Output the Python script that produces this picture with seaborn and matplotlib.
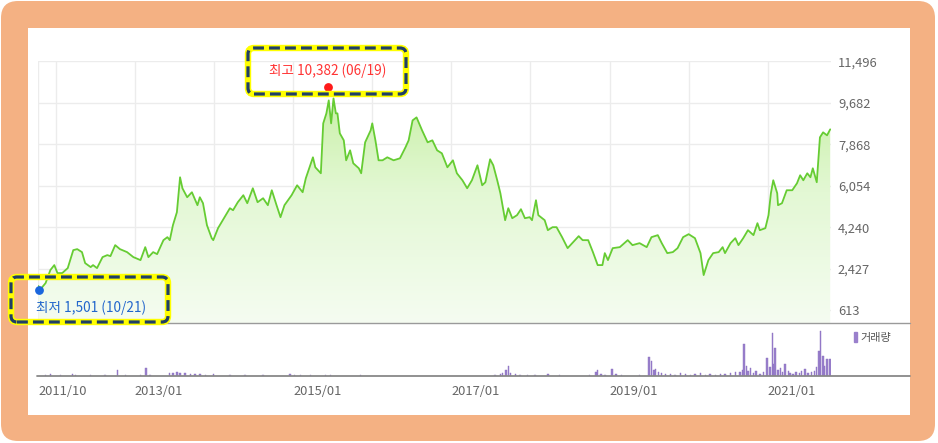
import numpy as np
import matplotlib
matplotlib.use("Agg")
import matplotlib.pyplot as plt
import seaborn as sns
from matplotlib.patches import FancyBboxPatch, Patch
from matplotlib.lines import Line2D
from matplotlib.colors import LinearSegmentedColormap

# --- dati (anni decimali, prezzo) ---
years = [
    2011.78, 2011.80, 2011.87, 2011.93, 2011.98, 2012.02, 2012.08, 2012.15, 2012.22, 2012.27,
    2012.33, 2012.37, 2012.44, 2012.47, 2012.52, 2012.59, 2012.65, 2012.69, 2012.75, 2012.81,
    2012.90, 2012.98, 2013.07, 2013.13, 2013.17, 2013.23, 2013.28, 2013.36, 2013.41, 2013.44,
    2013.48, 2013.53, 2013.57, 2013.60, 2013.66, 2013.72, 2013.79, 2013.82, 2013.86, 2013.91,
    2013.97, 2013.99, 2014.05, 2014.11, 2014.20, 2014.24, 2014.30, 2014.37, 2014.42, 2014.49,
    2014.55, 2014.62, 2014.68, 2014.73, 2014.79, 2014.84, 2014.89, 2014.98, 2015.05, 2015.12,
    2015.16, 2015.25, 2015.28, 2015.35, 2015.38, 2015.42, 2015.45, 2015.48, 2015.51, 2015.54,
    2015.56, 2015.59, 2015.64, 2015.67, 2015.72, 2015.76, 2015.83, 2015.86, 2015.91, 2015.98,
    2016.00, 2016.04, 2016.08, 2016.13, 2016.19, 2016.27, 2016.35, 2016.42, 2016.46, 2016.51,
    2016.56, 2016.63, 2016.70, 2016.76, 2016.82, 2016.88, 2016.95, 2017.02, 2017.07, 2017.14,
    2017.20, 2017.26, 2017.33, 2017.39, 2017.43, 2017.49, 2017.53, 2017.58, 2017.62, 2017.68,
    2017.72, 2017.77, 2017.83, 2017.88, 2017.93, 2017.99, 2018.02, 2018.07, 2018.10, 2018.18,
    2018.22, 2018.28, 2018.33, 2018.40, 2018.47, 2018.54, 2018.61, 2018.66, 2018.73, 2018.79,
    2018.85, 2018.91, 2018.94, 2018.98, 2019.04, 2019.13, 2019.23, 2019.29, 2019.38, 2019.47,
    2019.53, 2019.61, 2019.66, 2019.73, 2019.80, 2019.86, 2019.93, 2020.00, 2020.08, 2020.15,
    2020.19, 2020.25, 2020.31, 2020.38, 2020.43, 2020.46, 2020.53, 2020.59, 2020.63, 2020.69,
    2020.75, 2020.82, 2020.87, 2020.90, 2020.97, 2021.01, 2021.04, 2021.07, 2021.12, 2021.13,
    2021.18, 2021.24, 2021.31, 2021.37, 2021.41, 2021.45, 2021.50, 2021.54, 2021.57, 2021.62,
    2021.66, 2021.70, 2021.75, 2021.79,
]
prices = [
    1662, 1501, 1793, 2361, 2580, 2230, 2230, 2448, 3235, 3279,
    3148, 2667, 2492, 2580, 2448, 2929, 3017, 2973, 3454, 3279,
    3148, 2929, 2798, 3366, 2929, 3148, 3060, 3672, 3803, 3672,
    4328, 4896, 6425, 5944, 5551, 5770, 5202, 5551, 5289, 4328,
    3759, 3672, 4196, 4546, 5070, 4983, 5333, 5639, 5289, 5944,
    5333, 5507, 5202, 5857, 5202, 4677, 5202, 5639, 6075, 5770,
    6381, 7299, 6862, 6600, 8785, 9222, 9790, 8785, 9877, 9222,
    9222, 8348, 8042, 7168, 7605, 7037, 6818, 6600, 7955, 8479,
    8785, 8042, 7168, 7168, 7299, 7168, 7255, 7736, 8042, 8916,
    9047, 8479, 7955, 8042, 7605, 7474, 6862, 7168, 6600, 6294,
    5944, 6294, 6950, 6075, 6207, 7212, 6950, 6294, 5726, 4546,
    5070, 4633, 4765, 5027, 4633, 4677, 4546, 5420, 4765, 4546,
    4109, 4240, 4240, 3803, 3322, 3585, 3847, 3672, 3672, 3148,
    2580, 2580, 3104, 2798, 3322, 3366, 3672, 3454, 3541, 3366,
    3803, 3891, 3541, 3104, 3148, 3322, 3803, 3934, 3759, 3104,
    2143, 2798, 3104, 3148, 3366, 3104, 3541, 3759, 3454, 3759,
    4109, 3891, 4415, 4109, 4196, 4765, 5726, 6294, 5726, 5202,
    5289, 5857, 5857, 6163, 6513, 6294, 6600, 6425, 6818, 6207,
    8173, 8392, 8261, 8523,
]

# volume (unità arbitrarie)
vol_years = [
    2011.87, 2011.93, 2012.06, 2012.21, 2012.25, 2012.44, 2012.62, 2012.78, 2012.88, 2013.07,
    2013.14, 2013.19, 2013.44, 2013.48, 2013.53, 2013.57, 2013.63, 2013.70, 2013.76, 2013.82,
    2013.89, 2013.99, 2014.20, 2014.39, 2014.62, 2014.96, 2015.02, 2015.09, 2015.22, 2015.41,
    2015.47, 2015.85, 2017.55, 2017.62, 2017.65, 2017.69, 2017.72, 2017.75, 2017.81, 2017.87,
    2017.96, 2018.06, 2018.22, 2018.37, 2018.75, 2018.83, 2018.85, 2018.89, 2018.94, 2019.03,
    2019.08, 2019.15, 2019.38, 2019.50, 2019.53, 2019.56, 2019.58, 2019.62, 2019.66, 2019.71,
    2019.77, 2019.83, 2019.90, 2019.96, 2020.02, 2020.08, 2020.15, 2020.21, 2020.27, 2020.34,
    2020.40, 2020.46, 2020.53, 2020.59, 2020.65, 2020.68, 2020.70, 2020.73, 2020.75, 2020.78,
    2020.82, 2020.85, 2020.90, 2020.95, 2020.99, 2021.03, 2021.06, 2021.08, 2021.09, 2021.13,
    2021.16, 2021.19, 2021.22, 2021.26, 2021.28, 2021.32, 2021.36, 2021.40, 2021.43, 2021.47,
    2021.51, 2021.55, 2021.59, 2021.62, 2021.65, 2021.67, 2021.70, 2021.72, 2021.75, 2021.79,
]
volumes = [
    1, 2, 1, 2, 1, 1, 1, 6, 1, 1,
    8, 1, 3, 3, 4, 3, 3, 2, 2, 2,
    1, 2, 1, 1, 1, 2, 1, 1, 1, 1,
    1, 1, 1, 2, 3, 6, 10, 3, 2, 1,
    1, 1, 2, 1, 1, 4, 6, 2, 1, 7,
    2, 1, 1, 19, 15, 6, 7, 4, 3, 2,
    2, 1, 3, 2, 1, 2, 3, 1, 2, 1,
    2, 2, 3, 4, 4, 6, 32, 10, 5, 8,
    3, 5, 2, 4, 18, 9, 43, 12, 28, 6,
    8, 4, 12, 5, 3, 2, 4, 3, 5, 7,
    3, 4, 5, 9, 25, 45, 20, 10, 17, 17,
]

price_ticks = [613, 2427, 4240, 6054, 7868, 9682, 11496]
x_ticks = [2011.78, 2012, 2013, 2014, 2015, 2016, 2017, 2018, 2019, 2020, 2021]
x_labels = ["2011/10", "", "2013/01", "", "2015/01", "", "2017/01", "", "2019/01", "", "2021/01"]

hi_year, hi_value, hi_label = 2015.44, 10382, "최고 10,382 (06/19)"
lo_year, lo_value, lo_label = 2011.79, 1501, "최저 1,501 (10/21)"

# --- stile ---
sns.set_style("white")
plt.rcParams["font.family"] = ["Noto Sans CJK KR", "DejaVu Sans"]

W, H = 938, 443
fig = plt.figure(figsize=(W / 100, H / 100), dpi=100)
fig.patch.set_facecolor("white")


def rect_px(x0, y0, x1, y1):
    # pixel dall'alto a sinistra -> frazioni della figura
    return [x0 / W, 1 - y1 / H, (x1 - x0) / W, (y1 - y0) / H]


# cornice arancione + fondo bianco
fig.add_artist(FancyBboxPatch((0.01, 0.02), 9.34, 4.40, boxstyle="round,pad=0,rounding_size=0.17",
                              transform=fig.dpi_scale_trans, fc="#F4B183", ec="none", zorder=-10))
fig.add_artist(FancyBboxPatch((0.28, 0.28), 8.82, 3.87, boxstyle="square,pad=0",
                              transform=fig.dpi_scale_trans, fc="white", ec="none", zorder=-9))

ax = fig.add_axes(rect_px(38, 61, 831, 323))
axv = fig.add_axes(rect_px(38, 323, 831, 376), sharex=ax)
for a in (ax, axv):
    a.set_facecolor("none")
    for s in a.spines.values():
        s.set_visible(False)

X0, X1 = 2011.774, 2021.80
Y0, Y1 = 45, 11515

# area con gradiente
poly = ax.fill_between(years, prices, Y0, color="none", lw=0)
cmap = LinearSegmentedColormap.from_list("g", ["#f5fcf1", "#e3f8d4", "#c0ed98"])
grad = np.linspace(0, 1, 256).reshape(-1, 1)
im = ax.imshow(grad, extent=[X0, X1, Y0, Y1], origin="lower", aspect="auto", cmap=cmap, zorder=1)
im.set_clip_path(poly.get_paths()[0], transform=ax.transData)

sns.lineplot(x=years, y=prices, ax=ax, color="#66cc33", lw=1.3, zorder=3)

ax.set_xlim(X0, X1)
ax.set_ylim(Y0, Y1)
ax.set_yticks(price_ticks)
ax.set_yticklabels([f"{v:,}" for v in price_ticks])
ax.yaxis.tick_right()
ax.tick_params(axis="y", length=0, pad=5, labelsize=9.3, labelcolor="#666666")
ax.tick_params(axis="x", length=0, labelbottom=False)
ax.set_xticks(x_ticks)
ax.grid(True, color="#ececec", lw=1)
ax.set_axisbelow(True)

# punti massimo / minimo
ax.scatter([hi_year], [hi_value], s=28, color="#ff1a1a", zorder=5, clip_on=False)
ax.scatter([lo_year], [lo_value], s=28, color="#1a66dd", zorder=5, clip_on=False)
ax.annotate(hi_label, xy=(hi_year, hi_value), xytext=(0, 12), textcoords="offset points",
            ha="center", va="center", fontsize=9.8, color="#ff3333", zorder=6)
ax.annotate(lo_label, xy=(lo_year, lo_value), xytext=(-2, -13), textcoords="offset points",
            ha="left", va="center", fontsize=9.8, color="#2266cc", zorder=6, annotation_clip=False)

# volume
axv.bar(vol_years, volumes, width=0.018, color="#9a80cc", edgecolor="#8a6fc0", lw=0.3)
axv.set_ylim(0, 53)
axv.set_yticks([])
axv.set_xticks(x_ticks)
axv.set_xticklabels(x_labels, ha="left")
axv.tick_params(axis="x", direction="out", length=3.5, width=1, color="#888888",
                pad=3, labelsize=9.3, labelcolor="#666666")
axv.legend(handles=[Patch(color="#9a80cc")], labels=["거래량"], frameon=False,
           loc="upper left", bbox_to_anchor=(1.02, 0.95), handlelength=0.35, handleheight=1.0,
           handletextpad=0.3, fontsize=8, labelcolor="#555555", borderaxespad=0.2)

# linee di separazione
fig.add_artist(Line2D([38 / W, 910 / W], [1 - 323 / H] * 2, color="#9a9a9a", lw=1))
fig.add_artist(Line2D([37 / W, 910 / W], [1 - 376 / H] * 2, color="#888888", lw=1.3))

# riquadri tratteggiati gialli
for x0, y0, w, h in [(2.48, 3.49, 1.58, 0.46), (0.11, 1.21, 1.57, 0.45)]:
    fig.add_artist(FancyBboxPatch((x0, y0), w, h, boxstyle="round,pad=0,rounding_size=0.06",
                                  transform=fig.dpi_scale_trans, fc="none", ec="#ffff00",
                                  lw=4.6, zorder=20))
    fig.add_artist(FancyBboxPatch((x0, y0), w, h, boxstyle="round,pad=0,rounding_size=0.06",
                                  transform=fig.dpi_scale_trans, fc="none", ec="#1f3f66",
                                  lw=2.3, linestyle=(0, (3.4, 1.6)), zorder=21))

fig.savefig("out.png", dpi=100)
